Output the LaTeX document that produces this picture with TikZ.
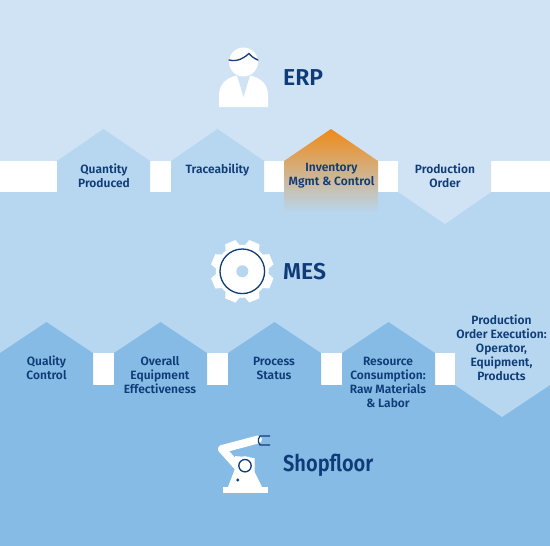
\documentclass[tikz,border=0pt]{standalone}
\usepackage{fontspec}
\setmainfont{Fira Sans}[UprightFont=* SemiBold]
\definecolor{bgtop}{HTML}{CFE3F5}
\definecolor{bgmid}{HTML}{B7D7F0}
\definecolor{bglow}{HTML}{85BBE5}
\definecolor{ink}{HTML}{0F3C78}
\definecolor{orangetop}{HTML}{EF8A17}
\tikzset{
  lab/.style={text=ink,align=center,font=\fontsize{12}{14}\selectfont,inner sep=0pt},
  head/.style={text=ink,anchor=base west,font=\fontsize{23}{28}\selectfont,inner sep=0pt},
  inkline/.style={draw=ink,line width=1.3pt},
}
\begin{document}
\begin{tikzpicture}[x=1pt,y=-1pt]
\useasboundingbox (0,0) rectangle (550,546);
% bands
\fill[bgtop] (0,0) rectangle (550,192);
\fill[bgmid] (0,192) rectangle (550,385);
\fill[bglow] (0,385) rectangle (550,546);
% white strips
\fill[white] (0,161) rectangle (550,192);
\fill[white] (0,353) rectangle (550,385);
% upper row
\fill[bgmid] (57,192) -- (57,161) -- (103.5,129) -- (150,161) -- (150,192) -- cycle;
\fill[bgmid] (171,192) -- (171,161) -- (217.5,129) -- (264,161) -- (264,192) -- cycle;
\shade[top color=orangetop,bottom color=bgmid,shading angle=0]
  (284,213) -- (284,161) -- (331,129) -- (378,161) -- (378,213) -- cycle;
\fill[bgtop] (398,161) -- (491,161) -- (491,192) -- (445,224) -- (398,192) -- cycle;
% lower row
\fill[bglow] (0,385) -- (0,353) -- (46.5,322) -- (93,353) -- (93,385) -- cycle;
\fill[bglow] (114,385) -- (114,353) -- (160.5,322) -- (207,353) -- (207,385) -- cycle;
\fill[bglow] (228,385) -- (228,353) -- (274.5,322) -- (321,353) -- (321,385) -- cycle;
\fill[bglow] (342,385) -- (342,353) -- (388.5,322) -- (435,353) -- (435,385) -- cycle;
\fill[bgmid] (455,353) -- (550,353) -- (550,385) -- (502,417) -- (455,385) -- cycle;
% ERP person
\fill[white] (219,107) -- (219,95) .. controls (219,82) and (230,75) .. (243.5,75) .. controls (257,75) and (268,82) .. (268,95) -- (268,107) -- cycle;
\fill[bgtop] (236,72) -- (251,72) -- (243.5,97) -- cycle;
\fill[white] (243.5,62) circle (14.5);
\draw[inkline,line cap=round] (229,60) .. controls (238,62) and (244,58) .. (249,53.5) .. controls (251,56) and (254,58.5) .. (258,60);
% MES gear
\begin{scope}[shift={(242.3,271.3)}]
  \fill[white] (0,0) circle (26.5);
  \foreach \a in {22.5,67.5,...,360}{
    \fill[white,rotate=\a] (24,-8) -- (31.5,-5.5) -- (31.5,5.5) -- (24,8) -- cycle;
  }
  \draw[inkline] (0,0) circle (22.3);
  \fill[bgmid] (0,0) circle (6);
\end{scope}
% Shopfloor robot
\fill[white] (223.3,487) rectangle (267.7,492.7);
\fill[white] (228,487) -- (236,466) -- (235,456) -- (254.5,458) -- (254.5,472) -- (262,487) -- cycle;
\draw[white,line width=8pt,line join=round,line cap=round] (222,449) -- (258,439.5);
\draw[white,line width=8pt,line join=round,line cap=round] (222,449) -- (238,467);
\fill[white] (245,465.7) circle (9.5);
\draw[inkline] (245,465.7) circle (6.2);
\fill[ink] (237.7,480) circle (1.6);
\draw[inkline] (270,436) -- (260,436) -- (258.5,439) -- (258.5,442) -- (260,445) -- (270,445);
% texts
\node[lab] (qp) at (104,176) {Quantity\\Produced};
\node[lab] (tr) at (217.5,170) {Traceability};
\node[lab] (inv) at (331.5,176) {Inventory\\Mgmt \& Control};
\node[lab] (po) at (445,176) {Production\\Order};
\node[lab] (qc) at (46.5,368) {Quality\\Control};
\node[lab] (oee) at (160,375) {Overall\\Equipment\\Effectiveness};
\node[lab] (ps) at (274,368.7) {Process\\Status};
\node[lab] (rc) at (388,382) {Resource\\Consumption:\\Raw Materials\\\& Labor};
\node[lab] (poe) at (501.5,347.5) {Production\\Order Execution:\\Operator,\\Equipment,\\Products};
\node[head] (erp) at (283,85) {ERP};
\node[head] (mes) at (283,279) {MES};
\node[head,xscale=0.87] (sf) at (283,471) {Shopfloor};
\end{tikzpicture}
\end{document}
